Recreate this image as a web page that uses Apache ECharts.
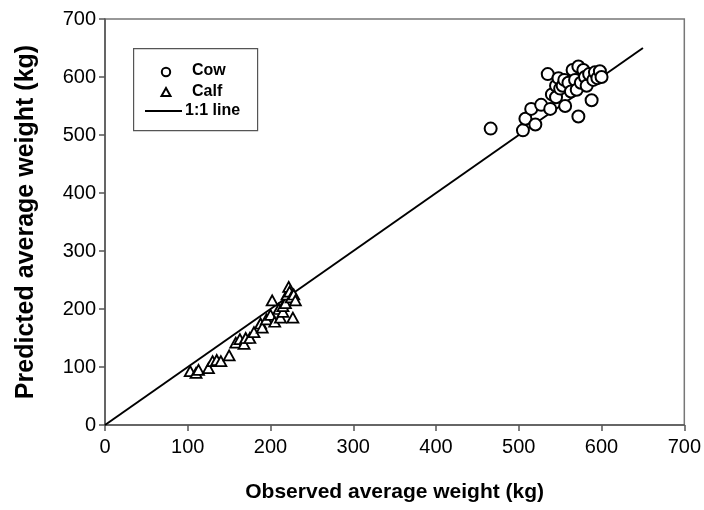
<!DOCTYPE html>
<html>
<head>
<meta charset="utf-8">
<script src="https://cdn.jsdelivr.net/npm/echarts@6/dist/echarts.min.js"></script>
<style>html,body{margin:0;padding:0;background:#fff}#c{width:704px;height:510px}</style>
</head>
<body>
<div id="c"></div>
<script>
const cowObserved  = [466,505,508,515,520,527,535,538,540,545,545,548,550,553,555,556,560,563,565,568,570,572,572,575,578,580,582,585,588,590,592,595,598,600];
const cowPredicted = [511,508,528,545,518,552,605,545,570,565,585,598,580,585,595,550,590,575,612,595,578,618,532,590,612,600,585,605,560,595,608,598,610,600];
const calfObserved  = [103,110,113,125,130,135,140,150,158,163,168,170,175,180,188,190,195,200,202,205,210,212,215,215,218,220,222,223,225,227,228,230];
const calfPredicted = [93,90,95,98,110,112,110,120,142,148,140,150,150,160,175,168,182,190,215,178,200,185,195,205,210,225,238,230,220,185,225,215];
const lineEnds = [0,650];
const xTicks = [0,100,200,300,400,500,600,700];
const yTicks = [0,100,200,300,400,500,600,700];
const legendNames = ['Cow','Calf','1:1 line'];

const zip = (a,b) => a.map((v,i)=>[v,b[i]]);
const font = 'Liberation Sans, Arial, sans-serif';
const chart = echarts.init(document.getElementById('c'));

const triPath = 'path://M0,10 L5,0 L10,10 Z';

chart.setOption({
  animation:false,
  backgroundColor:'#fff',
  grid:{left:105,right:18,top:19,bottom:85,show:true,borderColor:'#777',borderWidth:1.5},
  xAxis:{type:'value',min:xTicks[0],max:xTicks[xTicks.length-1],interval:100,
    name:'Observed average weight (kg)',nameLocation:'middle',nameGap:57,
    nameTextStyle:{fontFamily:font,fontSize:21,fontWeight:'bold',color:'#000'},
    axisLine:{show:true,onZero:false,lineStyle:{color:'#555',width:1.5}},
    axisTick:{show:true,inside:false,length:6,lineStyle:{color:'#555',width:1.5}},
    axisLabel:{fontFamily:font,fontSize:20,color:'#000',margin:12},
    splitLine:{show:false}},
  yAxis:{type:'value',min:yTicks[0],max:yTicks[yTicks.length-1],interval:100,
    name:'Predicted average weight (kg)',nameLocation:'middle',nameGap:66,
    nameTextStyle:{fontFamily:font,fontSize:25,fontWeight:'bold',color:'#000'},
    axisLine:{show:true,onZero:false,lineStyle:{color:'#555',width:1.5}},
    axisTick:{show:true,inside:false,length:6,lineStyle:{color:'#555',width:1.5}},
    axisLabel:{fontFamily:font,fontSize:20,color:'#000',margin:9},
    splitLine:{show:false}},
  series:[
    {name:legendNames[2],type:'line',data:zip(lineEnds,lineEnds),showSymbol:false,symbol:'none',
      lineStyle:{color:'#000',width:2},z:1},
    {name:legendNames[0],type:'scatter',data:zip(cowObserved,cowPredicted),symbol:'circle',symbolSize:12,
      itemStyle:{color:'#fff',borderColor:'#000',borderWidth:2,opacity:1},z:3},
    {name:legendNames[1],type:'scatter',data:zip(calfObserved,calfPredicted),symbol:triPath,symbolSize:[11,10],
      itemStyle:{color:'#fff',borderColor:'#000',borderWidth:1.8,opacity:1},z:3}
  ],
  graphic:[
    {type:'rect',left:133,top:48,shape:{width:124,height:82},style:{fill:'#fff',stroke:'#555',lineWidth:1.2},z:10},
    {type:'circle',shape:{cx:166,cy:72,r:4.2},style:{fill:'#fff',stroke:'#000',lineWidth:2},z:11},
    {type:'polygon',shape:{points:[[161.5,96],[166,88],[170.5,96]]},style:{fill:'#fff',stroke:'#000',lineWidth:2},z:11},
    {type:'line',shape:{x1:145,y1:111,x2:182,y2:111},style:{stroke:'#000',lineWidth:2},z:11},
    {type:'text',left:192,top:63,style:{text:legendNames[0],font:'bold 16px '+font,fill:'#000'},z:11},
    {type:'text',left:192,top:84,style:{text:legendNames[1],font:'bold 16px '+font,fill:'#000'},z:11},
    {type:'text',left:185,top:103,style:{text:legendNames[2],font:'bold 16px '+font,fill:'#000'},z:11}
  ]
});
</script>
</body>
</html>
